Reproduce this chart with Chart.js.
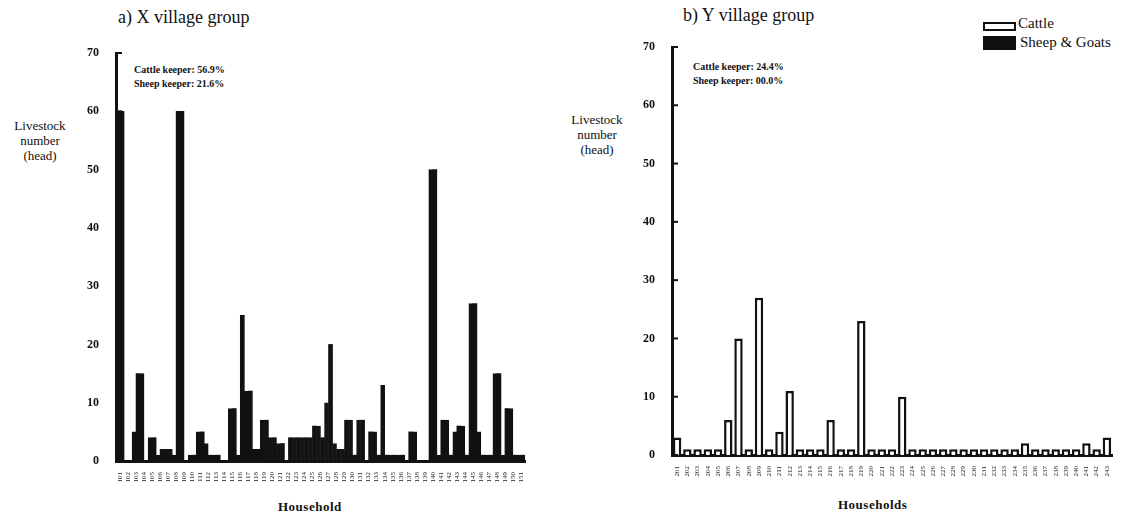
<!DOCTYPE html>
<html lang="en">
<head>
<meta charset="UTF-8">
<title>Livestock number by household</title>
<script src="https://cdn.jsdelivr.net/npm/chart.js"></script>
<style>
  body { margin: 0; width: 1124px; height: 517px; background: #fff; position: relative; overflow: hidden;
         font-family: "Liberation Serif", "DejaVu Serif", serif; color: #111; }
  canvas { position: absolute; top: 0; }
  .t { position: absolute; white-space: nowrap; color: #111; }
  .panel-title { font-size: 18px; }
  .ytitle { font-size: 13px; text-align: center; line-height: 15px; }
  .note { font-size: 10px; font-weight: bold; line-height: 14px; }
  .xtitle { font-size: 13px; font-weight: bold; letter-spacing: 0.5px; }
  .leg { font-size: 15px; }
  .swatch { position: absolute; box-sizing: border-box; border: 2px solid #111; }
</style>
</head>
<body>
  <div class="t panel-title" style="left:118px; top:7px;">a) X village group</div>
  <div class="t panel-title" style="left:683px; top:5px;">b) Y village group</div>

  <div class="t ytitle" style="left:8px; top:118px; width:64px;">Livestock<br>number<br>(head)</div>
  <div class="t ytitle" style="left:565px; top:112px; width:64px;">Livestock<br>number<br>(head)</div>

  <div class="t note" style="left:134px; top:63px;">Cattle keeper: 56.9%<br>Sheep keeper: 21.6%</div>
  <div class="t note" style="left:693px; top:60px;">Cattle keeper: 24.4%<br>Sheep keeper: 00.0%</div>

  <div class="t xtitle" style="left:278px; top:499px;">Household</div>
  <div class="t xtitle" style="left:838px; top:497px;">Households</div>

  <div class="swatch" style="left:983px; top:22px; width:33px; height:9px; background:#fff;"></div>
  <div class="t leg" style="left:1018px; top:15px;">Cattle</div>
  <div class="swatch" style="left:983px; top:36px; width:33px; height:14px; background:#111;"></div>
  <div class="t leg" style="left:1020px; top:34px;">Sheep &amp; Goats</div>

  <canvas id="chartX" width="545" height="517" style="left:0px;"></canvas>
  <canvas id="chartY" width="564" height="517" style="left:560px;"></canvas>

<script>
// a) X village group, 51 households
const xHouseholds = ["101","102","103","104","105","106","107","108","109","110",
  "111","112","113","114","115","116","117","118","119","120",
  "121","122","123","124","125","126","127","128","129","130",
  "131","132","133","134","135","136","137","138","139","140",
  "141","142","143","144","145","146","147","148","149","150","151"];
const xCattle = [60,0,5,15,4,1,2,1,60,1, 5,3,1,0,9,1,12,2,7,4, 3,0,4,4,4,6,10,3,2,7,
  7,0,5,13,1,1,0,5,0,50, 1,7,5,6,27,5,1,15,1,9, 1];
const xSheep = [60,0,15,0,4,2,2,60,0,1, 5,1,1,0,9,25,12,2,7,4, 3,4,4,4,6,4,20,2,7,1,
  7,5,1,1,1,1,5,0,0,50, 7,1,6,1,27,1,1,15,9,1, 1];

// b) Y village group, 43 households (no sheep & goats kept)
const yHouseholds = ["201","202","203","204","205","206","207","208","209","210",
  "211","212","213","214","215","216","217","218","219","220",
  "221","222","223","224","225","226","227","228","229","230",
  "231","232","233","234","235","236","237","238","239","240",
  "241","242","243"];
const yCattle = [3,1,1,1,1,6,20,1,27,1, 4,11,1,1,1,6,1,1,23,1, 1,1,10,1,1,1,1,1,1,1,
  1,1,1,1,2,1,1,1,1,1, 2,1,3];

const yTicks = [0, 10, 20, 30, 40, 50, 60, 70];
const ink = '#111';
const serif = '"Liberation Serif", "DejaVu Serif", serif';

// short tick marks drawn inside the plot, on the y axis
const innerTicks = {
  id: 'innerTicks',
  afterDraw(chart) {
    const { ctx, chartArea } = chart;
    const y = chart.scales.y;
    ctx.save();
    ctx.strokeStyle = ink;
    ctx.lineWidth = 2;
    yTicks.forEach(v => {
      const py = y.getPixelForValue(v);
      ctx.beginPath();
      ctx.moveTo(chartArea.left, py);
      ctx.lineTo(chartArea.left + 6, py);
      ctx.stroke();
    });
    ctx.restore();
  }
};

function makeOptions(pad, yWidth, xHeight) {
  return {
    responsive: false,
    animation: false,
    devicePixelRatio: 1,
    layout: { padding: pad },
    plugins: { legend: { display: false }, tooltip: { enabled: false } },
    scales: {
      x: {
        grid: { display: false },
        border: { display: true, color: ink, width: 3 },
        ticks: { autoSkip: false, minRotation: 90, maxRotation: 90, padding: 3,
                 color: '#222', font: { family: serif, size: 7 } },
        afterFit: s => { s.height = xHeight; }
      },
      y: {
        min: 0, max: 70,
        grid: { display: false },
        border: { display: true, color: ink, width: 3 },
        ticks: { stepSize: 10, padding: 9, color: ink,
                 font: { family: serif, size: 12, weight: 'bold' } },
        afterFit: s => { s.width = yWidth; }
      }
    }
  };
}

// in the narrow X panel the outlined cattle bars print as solid black
new Chart(document.getElementById('chartX'), {
  type: 'bar',
  data: {
    labels: xHouseholds,
    datasets: [
      { label: 'Cattle', data: xCattle, backgroundColor: ink, borderColor: ink,
        borderWidth: 1, categoryPercentage: 1, barPercentage: 1 },
      { label: 'Sheep & Goats', data: xSheep, backgroundColor: ink, borderWidth: 0,
        categoryPercentage: 1, barPercentage: 1 }
    ]
  },
  options: makeOptions({ top: 53, right: 20, left: 0, bottom: 0 }, 116, 56),
  plugins: [innerTicks]
});

new Chart(document.getElementById('chartY'), {
  type: 'bar',
  data: {
    labels: yHouseholds,
    datasets: [
      { label: 'Cattle', data: yCattle, backgroundColor: '#fff', borderColor: ink,
        borderWidth: 2.5, categoryPercentage: 0.82, barPercentage: 1 }
    ]
  },
  options: makeOptions({ top: 47, right: 12, left: 0, bottom: 0 }, 112, 62),
  plugins: [innerTicks]
});
</script>
</body>
</html>
